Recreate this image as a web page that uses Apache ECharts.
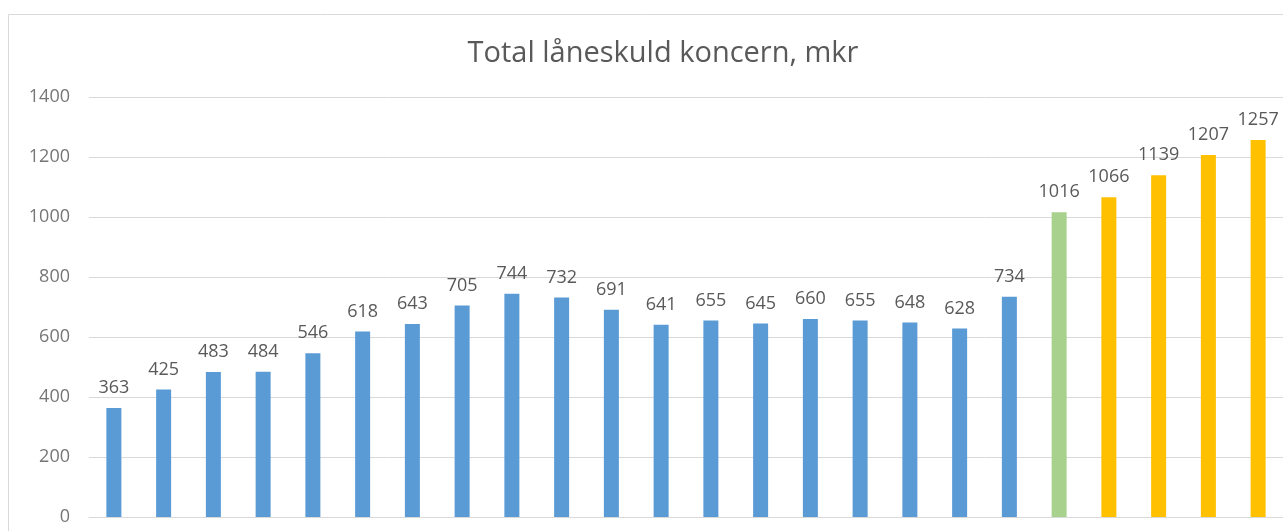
<!DOCTYPE html>
<html>
<head>
<meta charset="utf-8">
<script src="https://cdn.jsdelivr.net/npm/echarts@6/dist/echarts.min.js"></script>
<style>
  html, body { margin: 0; padding: 0; background: #fff; }
  #chart { width: 1283px; height: 531px; }
</style>
</head>
<body>
<div id="chart"></div>
<script>
// år / perioder (x-axelns etiketter syns inte i bilden)
var categories = ['1', '2', '3', '4', '5', '6', '7', '8', '9', '10', '11', '12',
  '13', '14', '15', '16', '17', '18', '19', '20', '21', '22', '23', '24'];
// total låneskuld, mkr
var values = [363, 425, 483, 484, 546, 618, 643, 705, 744, 732, 691, 641,
  655, 645, 660, 655, 648, 628, 734, 1016, 1066, 1139, 1207, 1257];
// typ: utfall / prognos / plan
var kinds = ['utfall', 'utfall', 'utfall', 'utfall', 'utfall', 'utfall', 'utfall', 'utfall',
  'utfall', 'utfall', 'utfall', 'utfall', 'utfall', 'utfall', 'utfall', 'utfall', 'utfall',
  'utfall', 'utfall', 'prognos', 'plan', 'plan', 'plan', 'plan'];
var yTicks = [0, 200, 400, 600, 800, 1000, 1200, 1400];

var kindColor = { utfall: '#5B9BD5', prognos: '#A9D18E', plan: '#FFC000' };

var chart = echarts.init(document.getElementById('chart'));

var barData = [];
for (var i = 0; i < values.length; i++) {
  barData.push({ value: values[i], itemStyle: { color: kindColor[kinds[i]] } });
}

var option = {
  animation: false,
  title: {
    text: 'Total låneskuld koncern, mkr',
    left: 658,
    textAlign: 'center',
    top: 34,
    textStyle: {
      fontFamily: 'Open Sans',
      fontSize: 29,
      fontWeight: 'normal',
      color: '#595959'
    }
  },
  graphic: [{
    type: 'rect',
    shape: { x: 8.5, y: 14.5, width: 1400, height: 600 },
    style: { fill: 'none', stroke: '#d9d9d9', lineWidth: 1 },
    silent: true
  }],
  grid: {
    left: 89,
    top: 97,
    width: 1200,
    height: 420
  },
  xAxis: {
    type: 'category',
    data: categories,
    axisTick: { show: false },
    axisLabel: { show: false },
    axisLine: { lineStyle: { color: '#d9d9d9' } }
  },
  yAxis: {
    type: 'value',
    min: yTicks[0],
    max: yTicks[yTicks.length - 1],
    interval: 200,
    axisLine: { show: false },
    axisTick: { show: false },
    axisLabel: {
      margin: 19,
      fontFamily: 'Open Sans',
      fontSize: 18,
      color: '#767676',
      formatter: function (v) { return String(v); }
    },
    splitLine: { lineStyle: { color: '#d9d9d9' } }
  },
  series: [{
    name: 'Låneskuld',
    type: 'bar',
    barWidth: 15,
    data: barData,
    label: {
      show: true,
      position: 'top',
      distance: 11,
      fontFamily: 'Open Sans',
      fontSize: 18,
      color: '#595959'
    }
  }]
};

chart.setOption(option);
</script>
</body>
</html>
